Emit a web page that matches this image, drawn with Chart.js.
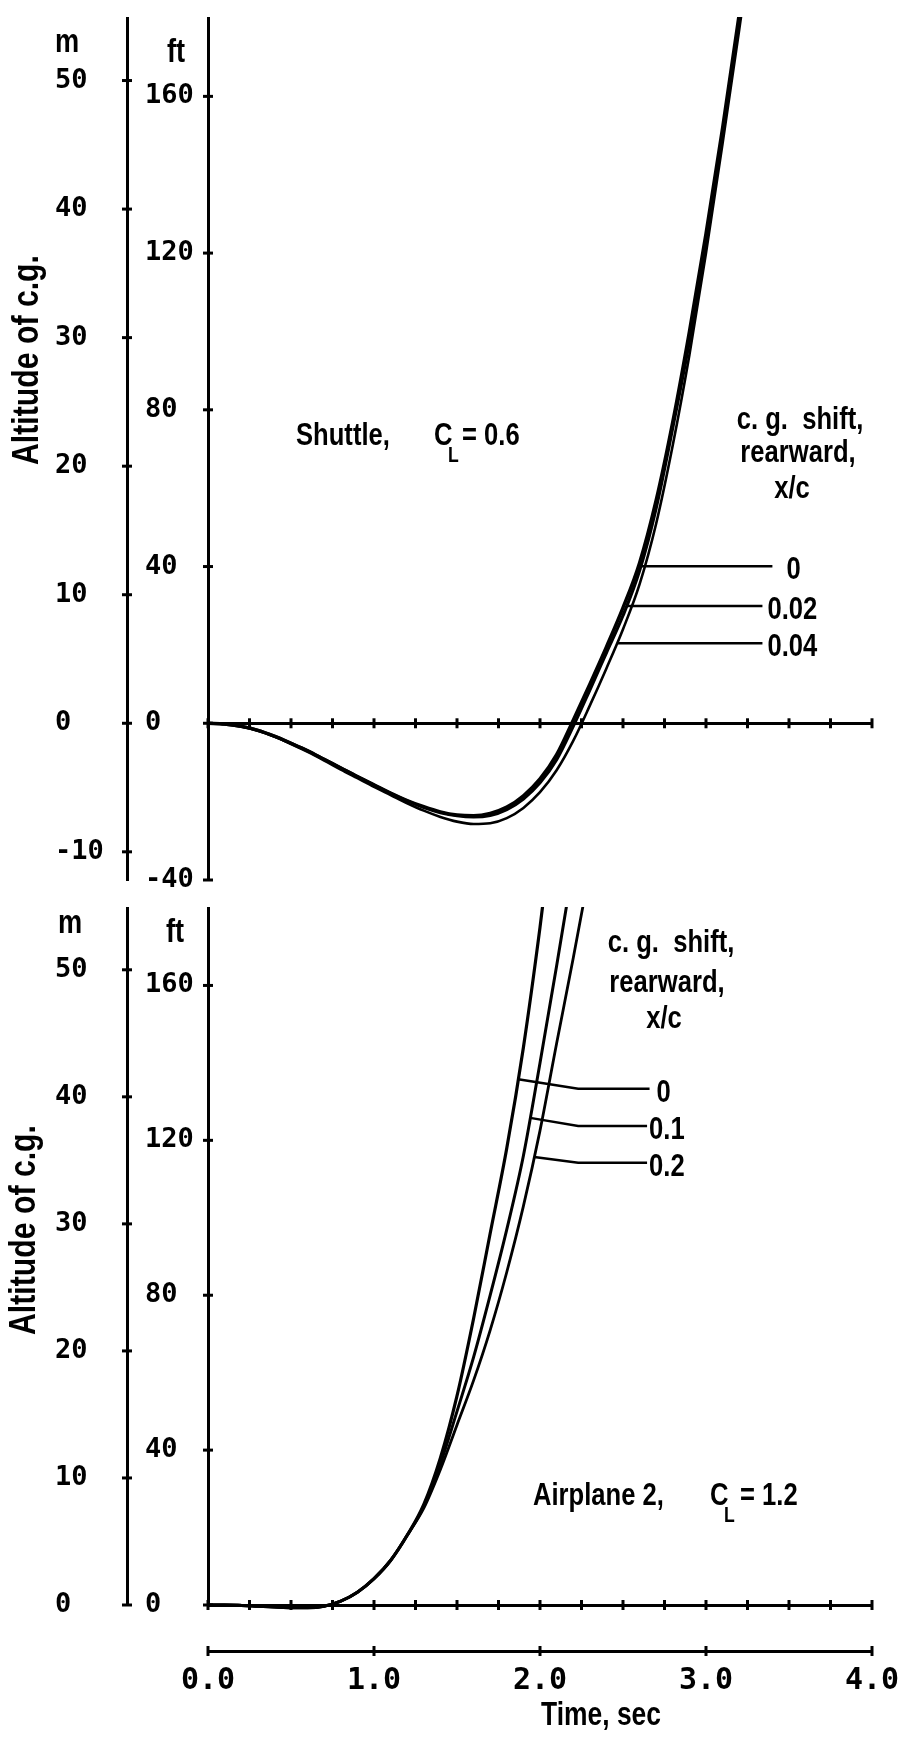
<!DOCTYPE html>
<html>
<head>
<meta charset="utf-8">
<script src="https://cdn.jsdelivr.net/npm/chart.js@4.4.1/dist/chart.umd.min.js"></script>
<style>
html, body { margin: 0; padding: 0; background: #fff; }
#wrap { position: relative; width: 902px; height: 1739px; overflow: hidden; background: #fff; }
canvas { position: absolute; left: 0; }
#top { top: 0; }
#bot { top: 890px; }
</style>
</head>
<body>
<div id="wrap">
  <canvas id="top" width="902" height="898"></canvas>
  <canvas id="bot" width="902" height="849"></canvas>
</div>
<script>
// ---------------- data ----------------
const FT_PER_M = 3.2808;

const X_TICKS  = [0, 0.25, 0.5, 0.75, 1, 1.25, 1.5, 1.75, 2, 2.25, 2.5, 2.75, 3, 3.25, 3.5, 3.75, 4];
const X_LABELS = [0, 1, 2, 3, 4];

const TOP_FT_MIN = -40, TOP_FT_MAX = 180;
const TOP_FT_TICKS  = [-40, -20, 0, 20, 40, 60, 80, 100, 120, 140, 160, 180];
const TOP_FT_LABELS = [-40, 0, 40, 80, 120, 160];
const TOP_M_TICKS   = [-10, -5, 0, 5, 10, 15, 20, 25, 30, 35, 40, 45, 50];
const TOP_M_LABELS  = [-10, 0, 10, 20, 30, 40, 50];

const BOT_FT_MIN = 0, BOT_FT_MAX = 180;
const BOT_FT_TICKS  = [0, 20, 40, 60, 80, 100, 120, 140, 160, 180];
const BOT_FT_LABELS = [0, 40, 80, 120, 160];
const BOT_M_TICKS   = [0, 5, 10, 15, 20, 25, 30, 35, 40, 45, 50];
const BOT_M_LABELS  = [0, 10, 20, 30, 40, 50];

// Shuttle, CL = 0.6  (altitude of c.g., ft)
const SHUTTLE_T = [0, 0.1, 0.2, 0.3, 0.4, 0.5, 0.6, 0.7, 0.8, 0.9, 1.0, 1.1, 1.2, 1.3, 1.4, 1.5, 1.6,
                   1.7, 1.8, 1.9, 2.0, 2.1, 2.2, 2.3, 2.4, 2.5, 2.6, 2.7, 2.8, 2.9, 3.0, 3.1, 3.2, 3.3];
const SHUTTLE_CG0   = [0, -0.2, -0.8, -1.8, -3.3, -5.1, -7.0, -9.2, -11.4, -13.6, -15.7, -17.8, -19.7, -21.3, -22.6, -23.4, -23.6,
                       -23.0, -21.4, -18.5, -14.2, -8.0, 0.8, 10, 19.5, 29.5, 41, 57, 77, 100, 125, 152, 181, 212];
const SHUTTLE_CG002 = [0, -0.2, -0.8, -1.8, -3.3, -5.1, -7.0, -9.2, -11.4, -13.6, -15.8, -17.9, -19.8, -21.5, -22.8, -23.6, -23.9,
                       -23.5, -22.0, -19.3, -15.2, -9.3, -0.8, 8.5, 18, 27.5, 39, 55, 75.5, 97.5, 123, 150, 179, 210];
const SHUTTLE_CG004 = [0, -0.2, -0.8, -1.9, -3.4, -5.3, -7.3, -9.5, -11.8, -14.0, -16.2, -18.3, -20.4, -22.3, -23.9, -25.1, -25.7,
                       -25.5, -24.2, -21.6, -17.6, -12.0, -4.5, 4.5, 14, 24, 35.5, 51, 71, 94, 120, 148, 177, 207];
const SHUTTLE_CG_NAMES = ['0', '0.02', '0.04'];
const SHUTTLE_LEADER_ALT   = [40.1, 29.9, 20.4];
const SHUTTLE_LEADER_END_T = [3.40, 3.34, 3.34];

// Airplane 2, CL = 1.2  (altitude of c.g., ft)
const AIRPLANE_T = [0, 0.1, 0.2, 0.3, 0.4, 0.5, 0.6, 0.7, 0.8, 0.9, 1.0, 1.1, 1.2,
                    1.3, 1.4, 1.5, 1.6, 1.7, 1.8, 1.9, 2.0, 2.1, 2.2, 2.3];
const AIRPLANE_CG0  = [0, 0, -0.1, -0.3, -0.5, -0.7, -0.7, -0.3, 1.0, 3.3, 6.8, 11.5, 18,
                       26, 38, 54, 74, 96, 118, 144, 175, 210, null, null];
const AIRPLANE_CG01 = [0, 0, -0.1, -0.3, -0.5, -0.7, -0.7, -0.3, 1.0, 3.3, 6.8, 11.5, 18,
                       25.5, 36.5, 50, 64, 80, 97, 116, 140, 165, 191, null];
const AIRPLANE_CG02 = [0, 0, -0.1, -0.3, -0.5, -0.7, -0.7, -0.3, 1.0, 3.3, 6.8, 11.5, 18,
                       25, 35, 46.5, 58, 71, 86, 103, 122.5, 145, 167, 190];
const AIRPLANE_CG_NAMES = ['0', '0.1', '0.2'];
const AIRPLANE_LEADER_ALT      = [135.8, 125.8, 115.7];
const AIRPLANE_LEADER_KINK_ALT = [133.3, 123.7, 114.2];
const AIRPLANE_LEADER_KINK_T   = 2.23;
const AIRPLANE_LEADER_END_T    = [2.66, 2.645, 2.645];

// ---------------- helpers ----------------
const INK = '#000';
const NOTE_FONT = '"Liberation Sans", Arimo, Arial, sans-serif';
const TICK_FAMILY = '"DejaVu Sans Mono", "Liberation Mono", monospace';

function note(ctx, s, x, y, o = {}) {
  const size = o.size || 32, sx = o.sx || 0.8;
  ctx.save();
  ctx.translate(x, y);
  if (o.rot) ctx.rotate(o.rot);
  ctx.scale(sx, 1);
  ctx.font = `bold ${size}px ${NOTE_FONT}`;
  ctx.fillStyle = INK;
  ctx.textAlign = o.align || 'left';
  ctx.textBaseline = o.base || 'alphabetic';
  ctx.fillText(s, 0, 0);
  ctx.restore();
}

function timeAtAlt(ts, vs, alt) {
  for (let i = 0; i < vs.length - 1; i++) {
    const a = vs[i], b = vs[i + 1];
    if (a == null || b == null) continue;
    if (a < alt && b >= alt) return ts[i] + (alt - a) / (b - a) * (ts[i + 1] - ts[i]);
  }
  return null;
}

function series(ts, vs) { return ts.map((t, i) => ({ x: t, y: vs[i] })); }

function lineDs(data, w) {
  return {
    data, borderColor: INK, borderWidth: w, pointRadius: 0, fill: false,
    cubicInterpolationMode: 'monotone', xAxisID: 'x', yAxisID: 'yFt',
    clip: { left: 2, top: 1, right: 2, bottom: 6 }
  };
}

function yAxis(ticksArr, labelsArr, min, max, weight, width) {
  return {
    type: 'linear', position: 'left', weight, min, max, bounds: 'data',
    grid: { display: false, drawTicks: false },
    border: { display: true, color: INK, width: 3 },
    afterBuildTicks: s => { s.ticks = ticksArr.map(v => ({ value: v })); },
    afterFit: s => { s.width = width; },
    ticks: {
      autoSkip: false, padding: 0, crossAlign: 'far', color: INK, includeBounds: false,
      font: { family: TICK_FAMILY, size: 27, weight: 'bold', lineHeight: 1 },
      callback: v => labelsArr.includes(v) ? String(v) : null
    }
  };
}

function xAxis(extra) {
  return Object.assign({
    type: 'linear', min: 0, max: 4, bounds: 'data',
    grid: { display: false, drawTicks: false },
    border: { display: true, color: INK, width: 3 },
    afterBuildTicks: s => { s.ticks = X_TICKS.map(v => ({ value: v })); },
    ticks: { display: false, autoSkip: false }
  }, extra);
}

const spacer = {
  axis: 'y', type: 'linear', position: 'left', weight: 1,
  grid: { display: false, drawTicks: false }, border: { display: false },
  ticks: { display: false }, afterFit: s => { s.width = 18; }
};

// cross-shaped tick marks on axis lines
function crossTicks(list) {
  return {
    id: 'crossTicks',
    afterDraw(chart) {
      const ctx = chart.ctx;
      ctx.save();
      ctx.strokeStyle = INK;
      ctx.lineWidth = 3;
      for (const item of list) {
        const s = chart.scales[item.id];
        let at;
        if (item.crossAt) at = chart.scales[item.crossAt[0]].getPixelForValue(item.crossAt[1]);
        else at = s.isHorizontal() ? s.top : s.right;
        for (const t of s.ticks) {
          const p = s.getPixelForValue(t.value);
          ctx.beginPath();
          if (s.isHorizontal()) { ctx.moveTo(p, at - 5); ctx.lineTo(p, at + 5); }
          else { ctx.moveTo(at - 5, p); ctx.lineTo(at + 5, p); }
          ctx.stroke();
        }
      }
      ctx.restore();
    }
  };
}

// ---------------- top panel: Shuttle ----------------
const TOP_OFF = 0;
const shuttleSeries = [SHUTTLE_CG0, SHUTTLE_CG002, SHUTTLE_CG004];
const shuttleNotes = {
  id: 'shuttleNotes',
  afterDatasetsDraw(chart) {
    const ctx = chart.ctx, x = chart.scales.x, y = chart.scales.yFt;
    const gaps = [14, 5, 5];
    ctx.save();
    ctx.strokeStyle = INK; ctx.lineWidth = 2.5;
    shuttleSeries.forEach((vs, i) => {
      const alt = SHUTTLE_LEADER_ALT[i];
      const t0 = timeAtAlt(SHUTTLE_T, vs, alt);
      const py = y.getPixelForValue(alt);
      const x0 = x.getPixelForValue(t0), x1 = x.getPixelForValue(SHUTTLE_LEADER_END_T[i]);
      ctx.beginPath(); ctx.moveTo(x0, py); ctx.lineTo(x1, py); ctx.stroke();
      note(ctx, SHUTTLE_CG_NAMES[i], x1 + gaps[i], py + 13);
    });
    ctx.restore();
    const o = TOP_OFF;
    note(ctx, 'm', 67, 52 - o, { align: 'center', size: 34 });
    note(ctx, 'ft', 176, 62 - o, { align: 'center', size: 34 });
    note(ctx, 'Altitude of c.g.', 28, 360 - o, { rot: -Math.PI / 2, align: 'center', base: 'middle', size: 36, sx: 0.84 });
    note(ctx, 'Shuttle,', 296, 445 - o);
    note(ctx, 'C', 434, 445 - o);
    note(ctx, 'L', 448, 462 - o, { size: 22 });
    note(ctx, '= 0.6', 462, 445 - o);
    note(ctx, 'c. g.  shift,', 800, 429 - o, { align: 'center' });
    note(ctx, 'rearward,', 798, 462 - o, { align: 'center' });
    note(ctx, 'x/c', 792, 498 - o, { align: 'center' });
  }
};

new Chart(document.getElementById('top'), {
  type: 'line',
  data: {
    datasets: [
      lineDs(series(SHUTTLE_T, SHUTTLE_CG0), 3.4),
      lineDs(series(SHUTTLE_T, SHUTTLE_CG002), 3.2),
      lineDs(series(SHUTTLE_T, SHUTTLE_CG004), 2.6)
    ]
  },
  options: {
    responsive: false, animation: false, devicePixelRatio: 1,
    layout: { padding: { left: 55, right: 30, top: 18, bottom: 18 } },
    plugins: { legend: { display: false }, tooltip: { enabled: false } },
    scales: {
      x: xAxis({ position: { yFt: 0 } }),
      yFt: yAxis(TOP_FT_TICKS, TOP_FT_LABELS, TOP_FT_MIN, TOP_FT_MAX, 0, 63),
      spacer: spacer,
      yM: yAxis(TOP_M_TICKS, TOP_M_LABELS, TOP_FT_MIN / FT_PER_M, TOP_FT_MAX / FT_PER_M, 2, 72)
    }
  },
  plugins: [shuttleNotes, crossTicks([{ id: 'x', crossAt: ['yFt', 0] }, { id: 'yFt' }, { id: 'yM' }])]
});

// ---------------- bottom panel: Airplane 2 ----------------
const BOT_OFF = 890;
const airplaneSeries = [AIRPLANE_CG0, AIRPLANE_CG01, AIRPLANE_CG02];
const airplaneNotes = {
  id: 'airplaneNotes',
  afterDatasetsDraw(chart) {
    const ctx = chart.ctx, x = chart.scales.x, y = chart.scales.yFt;
    const gaps = [7, 2, 2];
    ctx.save();
    ctx.strokeStyle = INK; ctx.lineWidth = 2.5;
    airplaneSeries.forEach((vs, i) => {
      const alt = AIRPLANE_LEADER_ALT[i];
      const t0 = timeAtAlt(AIRPLANE_T, vs, alt);
      const x0 = x.getPixelForValue(t0), y0 = y.getPixelForValue(alt);
      const xk = x.getPixelForValue(AIRPLANE_LEADER_KINK_T), yk = y.getPixelForValue(AIRPLANE_LEADER_KINK_ALT[i]);
      const x1 = x.getPixelForValue(AIRPLANE_LEADER_END_T[i]);
      ctx.beginPath(); ctx.moveTo(x0, y0); ctx.lineTo(xk, yk); ctx.lineTo(x1, yk); ctx.stroke();
      note(ctx, AIRPLANE_CG_NAMES[i], x1 + gaps[i], yk + 13);
    });
    ctx.restore();
    const o = BOT_OFF;
    note(ctx, 'm', 70, 933 - o, { align: 'center', size: 34 });
    note(ctx, 'ft', 175, 942 - o, { align: 'center', size: 34 });
    note(ctx, 'Altitude of c.g.', 25, 1230 - o, { rot: -Math.PI / 2, align: 'center', base: 'middle', size: 36, sx: 0.84 });
    note(ctx, 'c. g.  shift,', 671, 952 - o, { align: 'center' });
    note(ctx, 'rearward,', 667, 992 - o, { align: 'center' });
    note(ctx, 'x/c', 664, 1028 - o, { align: 'center' });
    note(ctx, 'Airplane 2,', 533, 1505 - o);
    note(ctx, 'C', 710, 1505 - o);
    note(ctx, 'L', 724, 1522 - o, { size: 22 });
    note(ctx, '= 1.2', 740, 1505 - o);
    note(ctx, 'Time, sec', 601, 1725 - o, { align: 'center', size: 33 });
  }
};

new Chart(document.getElementById('bot'), {
  type: 'line',
  data: {
    datasets: [
      lineDs(series(AIRPLANE_T, AIRPLANE_CG0), 3.2),
      lineDs(series(AIRPLANE_T, AIRPLANE_CG01), 3.0),
      lineDs(series(AIRPLANE_T, AIRPLANE_CG02), 2.8)
    ]
  },
  options: {
    responsive: false, animation: false, devicePixelRatio: 1,
    layout: { padding: { left: 55, right: 30, top: 18, bottom: 28 } },
    plugins: { legend: { display: false }, tooltip: { enabled: false } },
    scales: {
      x: xAxis({ position: 'bottom', weight: 0, afterFit: s => { s.height = 46; } }),
      x2: xAxis({
        position: 'bottom', weight: 1, afterFit: s => { s.height = 60; },
        ticks: {
          display: true, autoSkip: false, maxRotation: 0, minRotation: 0, padding: 0, color: INK,
          font: { family: TICK_FAMILY, size: 30, weight: 'bold', lineHeight: 2 },
          callback: v => X_LABELS.includes(v) ? v.toFixed(1) : null
        }
      }),
      yFt: yAxis(BOT_FT_TICKS, BOT_FT_LABELS, BOT_FT_MIN, BOT_FT_MAX, 0, 63),
      spacer: spacer,
      yM: yAxis(BOT_M_TICKS, BOT_M_LABELS, BOT_FT_MIN / FT_PER_M, BOT_FT_MAX / FT_PER_M, 2, 72)
    }
  },
  plugins: [airplaneNotes, crossTicks([{ id: 'x' }, { id: 'x2' }, { id: 'yFt' }, { id: 'yM' }])]
});
</script>
</body>
</html>
